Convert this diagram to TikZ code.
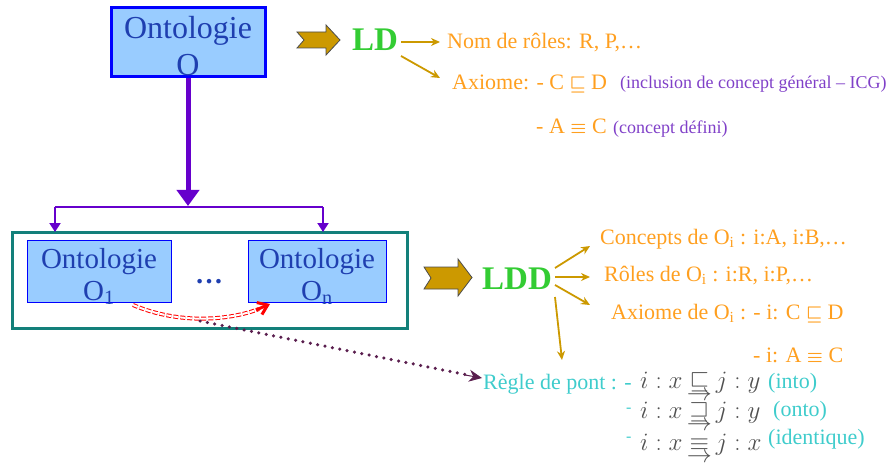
\RequirePackage{fix-cm}
\documentclass[tikz,border=0pt]{standalone}
\usepackage{amsmath}
\usepackage{fontspec}
\setmainfont{Liberation Serif}
\usetikzlibrary{arrows.meta}
\definecolor{boxfill}{HTML}{99CCFF}
\definecolor{boxblue}{HTML}{0000FF}
\definecolor{txtblue}{HTML}{1F3FB0}
\definecolor{teal2}{HTML}{13807A}
\definecolor{purp}{HTML}{6600CC}
\definecolor{gold}{HTML}{CC9900}
\definecolor{orng}{HTML}{FF9F1F}
\definecolor{violet2}{HTML}{8040C8}
\definecolor{green2}{HTML}{33CC33}
\definecolor{cyan2}{HTML}{3FCCCC}
\definecolor{gray2}{HTML}{505050}
\definecolor{dotpurp}{HTML}{5A1E4E}
\tikzset{
  obox/.style={draw=boxblue, fill=boxfill, inner sep=0pt},
  otext/.style={text=txtblue, font=\fontsize{29}{31}\selectfont, inner sep=0pt, anchor=base},
  ortext/.style={text=orng, font=\fontsize{22}{26}\selectfont, inner sep=0pt, anchor=base west},
  vtext/.style={text=violet2, font=\fontsize{18}{20}\selectfont, inner sep=0pt, anchor=base west},
  ctext/.style={text=cyan2, font=\fontsize{22}{26}\selectfont, inner sep=0pt, anchor=base west},
  mtext/.style={text=gray2, font=\fontsize{25}{28}\selectfont, inner sep=0pt, anchor=base west},
  goldarr/.style={draw=gold, line width=1.8pt, -{Stealth[length=9pt,width=8pt]}},
  blockarr/.style={fill=gold, draw=black!70, line width=0.8pt},
  purparr/.style={draw=purp, line width=2pt, -{Triangle[length=9pt,width=11pt]}},
}
\newcommand{\sqArr}[1]{\mathrel{\ooalign{$#1$\cr\hidewidth\raisebox{-0.48em}{$\rightarrow$}\hidewidth\cr}}}
\newcommand{\bsym}[1]{{\fontsize{18}{20}\selectfont\boldmath$#1$}}
\begin{document}
\begin{tikzpicture}[x=1pt,y=-1pt]
\useasboundingbox (0,0) rectangle (888,465);

% top ontology box
\node[obox, draw=boxblue, line width=3pt, minimum width=154pt, minimum height=69pt] (top) at (188,42.5) {};
\node[otext, font=\fontsize{32}{34}\selectfont] (topt1) at (188,39) {Ontologie};
\node[otext, font=\fontsize{32}{34}\selectfont] (topt2) at (188,76) {O};

% block arrow 1
\path[blockarr] (297,32) -- (326,32) -- (326,25) -- (340,40) -- (326,55) -- (326,48) -- (297,48) -- (304,40) -- cycle;
\node[text=green2, font=\bfseries\fontsize{33}{35}\selectfont, inner sep=0pt, anchor=base] (ld) at (375,51) {LD};
\coordinate (ldR) at (401,42);
\coordinate (ldR2) at (401,56);
\node[ortext] (roles) at (447,49) {Nom de rôles: R, P,…};
\node[ortext] (axiome) at (452,90) {Axiome: - C \bsym{\sqsubseteq} D};
\node[vtext] (icg) at (620,89) {(inclusion de concept général – ICG)};
\node[ortext] (defA) at (536,134) {- A \bsym{\equiv} C};
\node[vtext] (defn) at (613,134) {(concept défini)};
\draw[goldarr] (ldR) -- (440,42);
\draw[goldarr] (ldR2) -- (440,78);

% big purple arrow
\draw[draw=purp, line width=5pt, -{Triangle[length=16pt,width=22pt]}] (top.south) -- (188,206);
\coordinate (hl) at (55,207);
\coordinate (hr) at (323,207);
\draw[draw=purp, line width=2pt] (hl) -- (hr);

% container
\node[draw=teal2, line width=3pt, minimum width=395pt, minimum height=96pt, inner sep=0pt] (cont) at (209.5,280) {};
\draw[purparr] (hl) -- (55,232);
\draw[purparr] (hr) -- (323,232);

% O1 and On
\node[obox, line width=1pt, minimum width=144pt, minimum height=62pt] (o1) at (99,271) {};
\node[otext] (o1t1) at (99,268) {Ontologie};
\node[otext] (o1t2) at (99,300) {O\textsubscript{1}};
\node[obox, line width=1pt, minimum width=138pt, minimum height=62pt] (on) at (317,271) {};
\node[otext] (ont1) at (317,268) {Ontologie};
\node[otext] (ont2) at (317,300) {O\textsubscript{n}};
\node[text=txtblue, font=\bfseries\fontsize{28}{30}\selectfont, inner sep=0pt] (dots) at (209,282) {…};

% red double dashed curve
\coordinate (rs) at (133,305);
\coordinate (re) at (270,304);
\draw[red, line width=1pt, double distance=2pt, dash pattern=on 5pt off 2pt] (rs) .. controls (180,325) and (230,320) .. (259,309);
\draw[red, line width=3pt, -{Straight Barb[length=9pt,width=13pt]}] (256,310) -- (re);

% dotted line
\coordinate (ds) at (200,321);
\draw[dotpurp, line width=3.5pt, dash pattern=on 0pt off 7.5pt, line cap=round] (ds) -- (468,375);
\draw[dotpurp, -{Stealth[length=13pt,width=12pt]}, line width=1pt] (465,375) -- (482,378);

% block arrow 2
\path[blockarr] (424,267) -- (458,267) -- (458,259) -- (472,277.5) -- (458,296) -- (458,289) -- (424,289) -- (431,278) -- cycle;
\node[text=green2, font=\bfseries\fontsize{33}{35}\selectfont, inner sep=0pt, anchor=base] (ldd) at (517,289) {LDD};
\coordinate (lddA) at (555,268);
\coordinate (lddB) at (555,277);
\coordinate (lddC) at (555,285);
\coordinate (lddD) at (555,297);
\draw[goldarr] (lddA) -- (590,246);
\draw[goldarr] (lddB) -- (590,277);
\draw[goldarr] (lddC) -- (590,305);
\draw[goldarr] (lddD) -- (562,360);
\node[ortext] (conc) at (600,244) {Concepts de O\textsubscript{i} : i:A, i:B,…};
\node[ortext] (rol2) at (604,281) {Rôles de O\textsubscript{i} : i:R, i:P,…};
\node[ortext] (ax2) at (611,319) {Axiome de O\textsubscript{i} : - i: C \bsym{\sqsubseteq} D};
\node[ortext] (ax3) at (753,362) {- i: A \bsym{\equiv} C};

% bridge rules
\node[ctext] (regle) at (483,389) {Règle de pont : -};
\node[mtext] (m1) at (640,388) {$i:x\sqArr{\sqsubseteq}j:y$};
\node[ctext] (into) at (768,388) {(into)};
\node[text=cyan2, font=\fontsize{16}{18}\selectfont, inner sep=0pt, anchor=base west] (d2) at (626,412) {-};
\node[mtext] (m2) at (640,418) {$i:x\sqArr{\sqsupseteq}j:y$};
\node[ctext] (onto) at (773,416) {(onto)};
\node[text=cyan2, font=\fontsize{16}{18}\selectfont, inner sep=0pt, anchor=base west] (d3) at (626,441) {-};
\node[mtext] (m3) at (640,450) {$i:x\sqArr{\equiv}j:x$};
\node[ctext] (ident) at (768,444) {(identique)};
\end{tikzpicture}
\end{document}
